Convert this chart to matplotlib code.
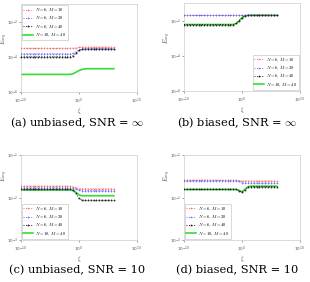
import matplotlib
matplotlib.use("Agg")
import matplotlib.pyplot as plt
import numpy as np

plt.rcParams['mathtext.fontset'] = 'cm'

# sample grid for xi (10^-10 .. 10^6)
xi = np.logspace(-10, 6, 33)

labels = ['$N=6,\\, M=10$', '$N=6,\\, M=20$', '$N=6,\\, M=40$', '$N=10,\\, M=40$']

# (a) unbiased, SNR = inf
a_m10 = [3.0e-4] * 18 + [3.05e-4, 3.2e-4, 3.4e-4, 3.5e-4, 3.5e-4, 3.5e-4, 3.5e-4, 3.5e-4,
                         3.5e-4, 3.5e-4, 3.5e-4, 3.5e-4, 3.5e-4, 3.5e-4, 3.5e-4]
a_m20 = [1.5e-4] * 18 + [1.6e-4, 2.0e-4, 2.5e-4, 2.8e-4, 2.9e-4, 2.9e-4, 2.9e-4, 2.9e-4,
                         2.9e-4, 2.9e-4, 2.9e-4, 2.9e-4, 2.9e-4, 2.9e-4, 2.9e-4]
a_m40 = [1.0e-4] * 18 + [1.15e-4, 1.6e-4, 2.3e-4, 2.7e-4, 2.8e-4, 2.8e-4, 2.8e-4, 2.8e-4,
                         2.8e-4, 2.8e-4, 2.8e-4, 2.8e-4, 2.8e-4, 2.8e-4, 2.8e-4]
a_n10 = [1.0e-5] * 18 + [1.1e-5, 1.35e-5, 1.65e-5, 1.9e-5, 2.05e-5, 2.1e-5, 2.1e-5, 2.1e-5,
                         2.1e-5, 2.1e-5, 2.1e-5, 2.1e-5, 2.1e-5, 2.1e-5, 2.1e-5]

# (b) biased, SNR = inf
b_m10 = [2.0e-2] * 33
b_m20 = [2.0e-2] * 33
b_m40 = [6.0e-3] * 18 + [7.0e-3, 1.0e-2, 1.5e-2, 1.9e-2, 2.0e-2, 2.0e-2, 2.0e-2, 2.0e-2,
                         2.0e-2, 2.0e-2, 2.0e-2, 2.0e-2, 2.0e-2, 2.0e-2, 2.0e-2]
b_n10 = [6.0e-3] * 18 + [6.8e-3, 9.5e-3, 1.45e-2, 1.85e-2, 2.0e-2, 2.0e-2, 2.0e-2, 2.0e-2,
                         2.0e-2, 2.0e-2, 2.0e-2, 2.0e-2, 2.0e-2, 2.0e-2, 2.0e-2]

# (c) unbiased, SNR = 10
c_m10 = [1.85e-2] * 18 + [1.8e-2, 1.7e-2, 1.62e-2, 1.6e-2, 1.6e-2, 1.6e-2, 1.6e-2, 1.6e-2,
                          1.6e-2, 1.6e-2, 1.6e-2, 1.6e-2, 1.6e-2, 1.6e-2, 1.6e-2]
c_m20 = [1.7e-2] * 18 + [1.65e-2, 1.55e-2, 1.47e-2, 1.45e-2, 1.45e-2, 1.45e-2, 1.45e-2, 1.45e-2,
                         1.45e-2, 1.45e-2, 1.45e-2, 1.45e-2, 1.45e-2, 1.45e-2, 1.45e-2]
c_m40 = [1.55e-2] * 18 + [1.5e-2, 1.25e-2, 9.5e-3, 8.7e-3, 8.6e-3, 8.6e-3, 8.6e-3, 8.6e-3,
                          8.6e-3, 8.6e-3, 8.6e-3, 8.6e-3, 8.6e-3, 8.6e-3, 8.6e-3]
c_n10 = [1.5e-2] * 18 + [1.45e-2, 1.3e-2, 1.15e-2, 1.1e-2, 1.1e-2, 1.1e-2, 1.1e-2, 1.1e-2,
                         1.1e-2, 1.1e-2, 1.1e-2, 1.1e-2, 1.1e-2, 1.1e-2, 1.1e-2]

# (d) biased, SNR = 10
d_m10 = [2.55e-2] * 19 + [2.5e-2, 2.45e-2, 2.45e-2, 2.45e-2, 2.45e-2, 2.45e-2, 2.45e-2,
                          2.45e-2, 2.45e-2, 2.45e-2, 2.45e-2, 2.45e-2, 2.45e-2, 2.45e-2]
d_m20 = [2.5e-2] * 19 + [2.4e-2, 2.25e-2, 2.2e-2, 2.2e-2, 2.2e-2, 2.2e-2, 2.2e-2,
                         2.2e-2, 2.2e-2, 2.2e-2, 2.2e-2, 2.2e-2, 2.2e-2, 2.2e-2]
d_m40 = [1.55e-2] * 19 + [1.45e-2, 1.32e-2, 1.5e-2, 1.75e-2, 1.8e-2, 1.8e-2, 1.8e-2,
                          1.8e-2, 1.8e-2, 1.8e-2, 1.8e-2, 1.8e-2, 1.8e-2, 1.8e-2]
d_n10 = [1.55e-2] * 19 + [1.47e-2, 1.36e-2, 1.55e-2, 1.78e-2, 1.85e-2, 1.85e-2, 1.85e-2,
                          1.85e-2, 1.85e-2, 1.85e-2, 1.85e-2, 1.85e-2, 1.85e-2, 1.85e-2]

panels = [
    dict(box=(21, 4, 137, 92), data=(a_m10, a_m20, a_m40, a_n10), ylim=(1e-6, 1e-1),
         yticks=[1e-6, 1e-4, 1e-2], loc='upper left', ylab=(10, 0.6),
         cap='(a) unbiased, SNR = $\\infty$', capxy=(77, 123)),
    dict(box=(184, 3, 300, 91), data=(b_m10, b_m20, b_m40, b_n10), ylim=(1e-6, 1e-1),
         yticks=[1e-6, 1e-4, 1e-2], loc='lower right', ylab=(173, 0.6),
         cap='(b) biased, SNR = $\\infty$', capxy=(237, 123)),
    dict(box=(21, 155, 137, 240), data=(c_m10, c_m20, c_m40, c_n10), ylim=(1e-3, 1e-1),
         yticks=[1e-3, 1e-2, 1e-1], loc='lower left', ylab=(10, 0.75),
         cap='(c) unbiased, SNR = 10', capxy=(77, 270)),
    dict(box=(184, 155, 300, 240), data=(d_m10, d_m20, d_m40, d_n10), ylim=(1e-3, 1e-1),
         yticks=[1e-3, 1e-2, 1e-1], loc='lower left', ylab=(173, 0.75),
         cap='(d) biased, SNR = 10', capxy=(237, 270)),
]

styles = [
    dict(color='#ff7070', ls=':', marker='+', ms=1.8, lw=0.7, mew=0.45, zorder=3),
    dict(color='#7070ff', ls=':', marker='+', ms=1.8, lw=0.7, mew=0.45, zorder=4),
    dict(color='#222222', ls=':', marker='*', ms=1.4, lw=0.7, mew=0.3, zorder=5),
    dict(color='#33dd33', ls='-', marker=None, lw=1.2, zorder=2),
]

fig = plt.figure(figsize=(3.1, 2.82), dpi=100)
W, H = 310, 282

for p in panels:
    l, t, r, b = p['box']
    ax = fig.add_axes([l / W, 1 - b / H, (r - l) / W, (b - t) / H])
    for y, st, lab in zip(p['data'], styles, labels):
        ax.plot(xi, y, label=lab, **st)
    ax.set_xscale('log')
    ax.set_yscale('log')
    ax.set_xlim(1e-10, 1e10)
    ax.set_ylim(*p['ylim'])
    ax.set_xticks([1e-10, 1e0, 1e10])
    ax.set_yticks(p['yticks'])
    ax.minorticks_off()
    ax.tick_params(labelsize=3.1, length=1.2, width=0.4, colors='#555555', pad=0.8)
    ax.tick_params(axis='x', pad=2.2)
    for s in ax.spines.values():
        s.set_color('#cccccc')
        s.set_linewidth(0.5)
    ax.set_xlabel('$\\xi$', fontsize=4.5, labelpad=0, color='#444444')
    ax.set_ylabel('$E_{avg}$', fontsize=4.2, color='#444444')
    lx, ly = p['ylab']
    ax.yaxis.set_label_coords((lx - l) / (r - l), ly)
    leg = ax.legend(loc=p['loc'], fontsize=3.2, handlelength=2.2, borderpad=0.25,
                    labelspacing=0.12, handletextpad=0.5, borderaxespad=0.3,
                    numpoints=1, fancybox=False, framealpha=1)
    leg.get_frame().set_linewidth(0.4)
    leg.get_frame().set_edgecolor('#bbbbbb')
    cx, cy = p['capxy']
    fig.text(cx / W, 1 - cy / H, p['cap'], ha='center', va='center',
             fontsize=8.2, family='DejaVu Serif')

fig.savefig('out.png', dpi=100)
